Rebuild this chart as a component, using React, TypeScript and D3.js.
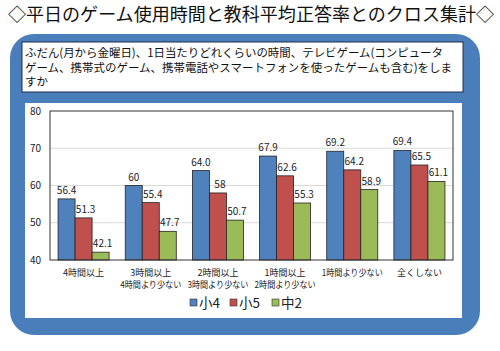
import React from 'react';
import * as d3 from 'd3';

const width = 500;
const height = 351;
const plot = { left: 50, right: 453, top: 111, bottom: 260 };

const categories = [
  ['4時間以上'],
  ['3時間以上', '4時間より少ない'],
  ['2時間以上', '3時間より少ない'],
  ['1時間以上', '2時間より少ない'],
  ['1時間より少ない'],
  ['全くしない'],
];
const seriesNames = ['小4', '小5', '中2'];
const grade4 = [56.4, 60, 64.0, 67.9, 69.2, 69.4];
const grade5 = [51.3, 55.4, 58, 62.6, 64.2, 65.5];
const grade8 = [42.1, 47.7, 50.7, 55.3, 58.9, 61.1];
const labels4 = ['56.4', '60', '64.0', '67.9', '69.2', '69.4'];
const labels5 = ['51.3', '55.4', '58', '62.6', '64.2', '65.5'];
const labels8 = ['42.1', '47.7', '50.7', '55.3', '58.9', '61.1'];
const yTicks = [40, 50, 60, 70, 80];
const colors = ['#4F81BD', '#C0504D', '#9BBB59'];

const title = '◇平日のゲーム使用時間と教科平均正答率とのクロス集計◇';
const question = [
  'ふだん(月から金曜日)、1日当たりどれくらいの時間、テレビゲーム(コンピュータ',
  'ゲーム、携帯式のゲーム、携帯電話やスマートフォンを使ったゲームも含む)をしま',
  'すか',
];

const font = '"Noto Sans CJK JP", "Noto Sans", sans-serif';

export default function App() {
  const values = [grade4, grade5, grade8];
  const texts = [labels4, labels5, labels8];

  const x0 = d3.scaleBand<number>()
    .domain(categories.map((_, i) => i))
    .range([plot.left, plot.right])
    .paddingInner(0.24)
    .paddingOuter(0.12);
  const x1 = d3.scaleBand<number>()
    .domain([0, 1, 2])
    .range([0, x0.bandwidth()]);
  const y = d3.scaleLinear().domain([40, 80]).range([plot.bottom, plot.top]);

  return (
    <svg width={width} height={height} style={{ position: 'absolute', left: 0, top: 0 }} fontFamily={font}>
      <rect width={width} height={height} fill="#fff" />
      <text x={251} y={21} textAnchor="middle" fontSize={18} fill="#111" textLength={486} lengthAdjust="spacingAndGlyphs">{title}</text>

      <rect x={10} y={34} width={470} height={301} rx={24} fill="#4A7EBB" />
      <rect x={22} y={42} width={441} height={50} fill="#fff" stroke="#1F2F4F" strokeWidth={1} />
      {question.map((line, i) => (
        <text key={i} x={25} y={57 + i * 14.5} fontSize={11.5} fill="#111"
          textLength={i === 0 ? 418 : i === 1 ? 427 : undefined} lengthAdjust="spacingAndGlyphs">{line}</text>
      ))}
      <rect x={25} y={103} width={437} height={215} fill="#fff" />

      {yTicks.map(t => (
        <g key={t}>
          {t > 40 && t < 80 && (
            <line x1={plot.left} x2={plot.right} y1={y(t)} y2={y(t)} stroke="#d9d9d9" strokeWidth={1} />
          )}
          <text x={41} y={y(t) + 3.5} textAnchor="end" fontSize={10} fill="#222">{t}</text>
        </g>
      ))}

      {categories.map((cat, ci) => (
        <g key={ci} transform={`translate(${x0(ci)},0)`}>
          {values.map((vals, si) => (
            <g key={si}>
              <rect x={x1(si)} y={y(vals[ci])} width={x1.bandwidth()} height={plot.bottom - y(vals[ci])}
                fill={colors[si]} stroke="#222" strokeWidth={0.8} />
              <text x={(x1(si) as number) + x1.bandwidth() / 2 + (si === 0 ? 0 : 2)} y={y(vals[ci]) - 5}
                textAnchor="middle" fontSize={10} fill="#222">{texts[si][ci]}</text>
            </g>
          ))}
          {cat.map((line, li) => (
            <text key={li} x={x0.bandwidth() / 2} y={276 + li * 12} textAnchor="middle" fontSize={9} fill="#222"
              textLength={line.length > 6 ? 61 : undefined} lengthAdjust="spacingAndGlyphs">{line}</text>
          ))}
        </g>
      ))}

      <rect x={plot.left} y={plot.top} width={plot.right - plot.left} height={plot.bottom - plot.top}
        fill="none" stroke="#333" strokeWidth={1} />

      {seriesNames.map((name, i) => {
        const lx = [190, 230, 272][i];
        return (
          <g key={name}>
            <rect x={lx} y={299} width={7} height={7} fill={colors[i]} stroke="#333" strokeWidth={0.6} />
            <text x={lx + 9} y={308} fontSize={13.5} fill="#222">{name}</text>
          </g>
        );
      })}
    </svg>
  );
}
